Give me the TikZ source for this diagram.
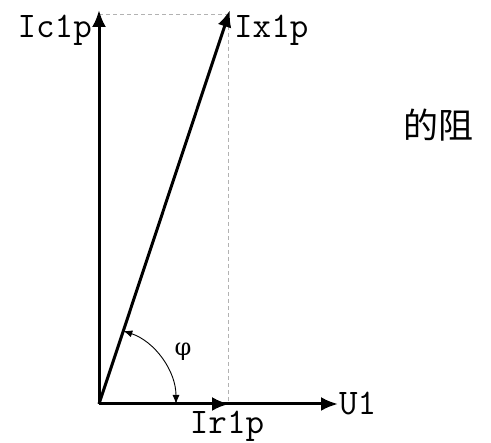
\documentclass[tikz,border=0pt]{standalone}
\usepackage{fontspec}
\newfontfamily\cjk{Noto Sans CJK SC}
\newfontfamily\greek{DejaVu Serif}
\usetikzlibrary{arrows.meta,calc}
\tikzset{
  vec/.style={line width=3pt,-{Latex[length=17pt,width=14pt]}},
  guide/.style={gray!60,line width=1pt,dash pattern=on 4pt off 3pt},
  lbl/.style={font=\fontsize{36}{36}\selectfont\ttfamily,inner sep=0pt},
  angarc/.style={line width=0.9pt,{Latex[length=9pt,width=7pt]}-{Latex[length=9pt,width=7pt]}}
}
\begin{document}
\begin{tikzpicture}[x=1pt,y=1pt]
\useasboundingbox (0,0) rectangle (491,443);
\coordinate (O) at (99,39);
\coordinate (C) at (99,433);
\coordinate (X) at (230,433);
\coordinate (R) at (229,39);
\coordinate (U) at (338,39);
\coordinate (XT) at (228,428);
\coordinate (CT) at (99,428);
\coordinate (XB) at (228,39);
\coordinate (A1) at ($(O)+(71.6:77pt)$);
\draw[guide] (CT) -- (XT) -- (XB);
\draw[vec] (O) -- (U);
\draw[vec] (O) -- (R);
\draw[vec] (O) -- (C);
\draw[vec] (O) -- (X);
\draw[angarc] (A1) arc[start angle=71.6,end angle=0,radius=77pt];
\node[lbl,anchor=base east] (lc) at (92,405) {Ic1p};
\node[lbl,anchor=base west] (lx) at (234,405) {Ix1p};
\node[lbl,anchor=base] (lr) at (227,9) {Ir1p};
\node[lbl,anchor=west] (lu) at (339,39) {U1};
\node[inner sep=0pt,font=\greek\fontsize{24}{24}\selectfont] (phi) at (183,91) {φ};
\node[inner sep=0pt,font=\cjk\fontsize{35}{35}\selectfont] (zh) at (438,318) {的阻};
\end{tikzpicture}
\end{document}
